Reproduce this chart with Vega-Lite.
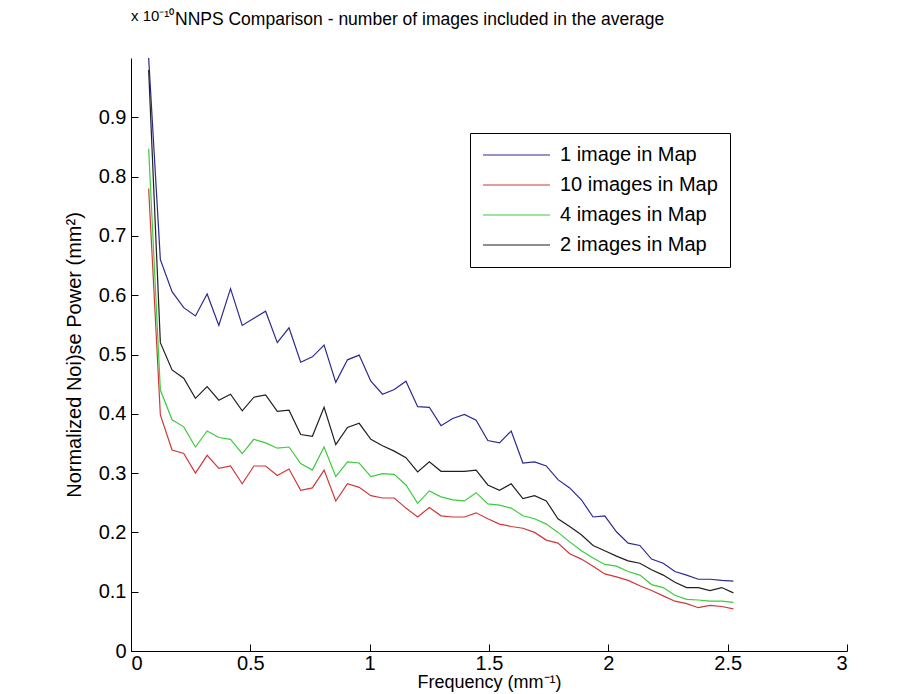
{
  "$schema": "https://vega.github.io/schema/vega-lite/v6.json",
  "width": 716,
  "height": 593,
  "autosize": "none",
  "padding": {"left": 131, "top": 58, "right": 73, "bottom": 43},
  "background": "white",
  "title": {
    "text": "NNPS Comparison - number of images included in the average",
    "anchor": "start",
    "frame": "group",
    "dx": 44,
    "dy": 45,
    "font": "Liberation Sans",
    "fontSize": 17.5,
    "fontWeight": "normal",
    "color": "black",
    "baseline": "alphabetic",
    "offset": 12
  },
  "layer": [
    {
      "data": {
        "values": [
          {"f":0.074,"n":"1 image in Map","v":1.0},{"f":0.123,"n":"1 image in Map","v":0.66},{"f":0.172,"n":"1 image in Map","v":0.606},{"f":0.221,"n":"1 image in Map","v":0.579},{"f":0.270,"n":"1 image in Map","v":0.565},{"f":0.319,"n":"1 image in Map","v":0.602},{"f":0.368,"n":"1 image in Map","v":0.549},{"f":0.417,"n":"1 image in Map","v":0.611},{"f":0.466,"n":"1 image in Map","v":0.549},{"f":0.515,"n":"1 image in Map","v":0.561},{"f":0.564,"n":"1 image in Map","v":0.573},{"f":0.613,"n":"1 image in Map","v":0.52},{"f":0.662,"n":"1 image in Map","v":0.545},{"f":0.711,"n":"1 image in Map","v":0.487},{"f":0.760,"n":"1 image in Map","v":0.496},{"f":0.809,"n":"1 image in Map","v":0.516},{"f":0.858,"n":"1 image in Map","v":0.453},{"f":0.907,"n":"1 image in Map","v":0.491},{"f":0.956,"n":"1 image in Map","v":0.499},{"f":1.005,"n":"1 image in Map","v":0.455},{"f":1.054,"n":"1 image in Map","v":0.433},{"f":1.103,"n":"1 image in Map","v":0.441},{"f":1.152,"n":"1 image in Map","v":0.455},{"f":1.201,"n":"1 image in Map","v":0.412},{"f":1.250,"n":"1 image in Map","v":0.411},{"f":1.299,"n":"1 image in Map","v":0.38},{"f":1.348,"n":"1 image in Map","v":0.392},{"f":1.397,"n":"1 image in Map","v":0.399},{"f":1.446,"n":"1 image in Map","v":0.389},{"f":1.495,"n":"1 image in Map","v":0.355},{"f":1.544,"n":"1 image in Map","v":0.351},{"f":1.593,"n":"1 image in Map","v":0.371},{"f":1.642,"n":"1 image in Map","v":0.317},{"f":1.691,"n":"1 image in Map","v":0.319},{"f":1.740,"n":"1 image in Map","v":0.312},{"f":1.789,"n":"1 image in Map","v":0.289},{"f":1.838,"n":"1 image in Map","v":0.275},{"f":1.887,"n":"1 image in Map","v":0.255},{"f":1.936,"n":"1 image in Map","v":0.226},{"f":1.985,"n":"1 image in Map","v":0.228},{"f":2.034,"n":"1 image in Map","v":0.201},{"f":2.083,"n":"1 image in Map","v":0.182},{"f":2.132,"n":"1 image in Map","v":0.178},{"f":2.181,"n":"1 image in Map","v":0.155},{"f":2.230,"n":"1 image in Map","v":0.148},{"f":2.279,"n":"1 image in Map","v":0.134},{"f":2.328,"n":"1 image in Map","v":0.128},{"f":2.377,"n":"1 image in Map","v":0.121},{"f":2.426,"n":"1 image in Map","v":0.121},{"f":2.475,"n":"1 image in Map","v":0.119},{"f":2.524,"n":"1 image in Map","v":0.118},
          {"f":0.074,"n":"10 images in Map","v":0.78},{"f":0.123,"n":"10 images in Map","v":0.398},{"f":0.172,"n":"10 images in Map","v":0.339},{"f":0.221,"n":"10 images in Map","v":0.333},{"f":0.270,"n":"10 images in Map","v":0.3},{"f":0.319,"n":"10 images in Map","v":0.33},{"f":0.368,"n":"10 images in Map","v":0.308},{"f":0.417,"n":"10 images in Map","v":0.312},{"f":0.466,"n":"10 images in Map","v":0.282},{"f":0.515,"n":"10 images in Map","v":0.312},{"f":0.564,"n":"10 images in Map","v":0.312},{"f":0.613,"n":"10 images in Map","v":0.296},{"f":0.662,"n":"10 images in Map","v":0.307},{"f":0.711,"n":"10 images in Map","v":0.271},{"f":0.760,"n":"10 images in Map","v":0.275},{"f":0.809,"n":"10 images in Map","v":0.305},{"f":0.858,"n":"10 images in Map","v":0.253},{"f":0.907,"n":"10 images in Map","v":0.282},{"f":0.956,"n":"10 images in Map","v":0.276},{"f":1.005,"n":"10 images in Map","v":0.262},{"f":1.054,"n":"10 images in Map","v":0.258},{"f":1.103,"n":"10 images in Map","v":0.258},{"f":1.152,"n":"10 images in Map","v":0.241},{"f":1.201,"n":"10 images in Map","v":0.226},{"f":1.250,"n":"10 images in Map","v":0.242},{"f":1.299,"n":"10 images in Map","v":0.228},{"f":1.348,"n":"10 images in Map","v":0.226},{"f":1.397,"n":"10 images in Map","v":0.226},{"f":1.446,"n":"10 images in Map","v":0.233},{"f":1.495,"n":"10 images in Map","v":0.223},{"f":1.544,"n":"10 images in Map","v":0.214},{"f":1.593,"n":"10 images in Map","v":0.21},{"f":1.642,"n":"10 images in Map","v":0.207},{"f":1.691,"n":"10 images in Map","v":0.2},{"f":1.740,"n":"10 images in Map","v":0.187},{"f":1.789,"n":"10 images in Map","v":0.182},{"f":1.838,"n":"10 images in Map","v":0.164},{"f":1.887,"n":"10 images in Map","v":0.155},{"f":1.936,"n":"10 images in Map","v":0.143},{"f":1.985,"n":"10 images in Map","v":0.13},{"f":2.034,"n":"10 images in Map","v":0.125},{"f":2.083,"n":"10 images in Map","v":0.119},{"f":2.132,"n":"10 images in Map","v":0.11},{"f":2.181,"n":"10 images in Map","v":0.102},{"f":2.230,"n":"10 images in Map","v":0.093},{"f":2.279,"n":"10 images in Map","v":0.084},{"f":2.328,"n":"10 images in Map","v":0.08},{"f":2.377,"n":"10 images in Map","v":0.073},{"f":2.426,"n":"10 images in Map","v":0.077},{"f":2.475,"n":"10 images in Map","v":0.075},{"f":2.524,"n":"10 images in Map","v":0.071},
          {"f":0.074,"n":"4 images in Map","v":0.847},{"f":0.123,"n":"4 images in Map","v":0.44},{"f":0.172,"n":"4 images in Map","v":0.39},{"f":0.221,"n":"4 images in Map","v":0.378},{"f":0.270,"n":"4 images in Map","v":0.344},{"f":0.319,"n":"4 images in Map","v":0.371},{"f":0.368,"n":"4 images in Map","v":0.36},{"f":0.417,"n":"4 images in Map","v":0.357},{"f":0.466,"n":"4 images in Map","v":0.333},{"f":0.515,"n":"4 images in Map","v":0.357},{"f":0.564,"n":"4 images in Map","v":0.351},{"f":0.613,"n":"4 images in Map","v":0.342},{"f":0.662,"n":"4 images in Map","v":0.344},{"f":0.711,"n":"4 images in Map","v":0.316},{"f":0.760,"n":"4 images in Map","v":0.305},{"f":0.809,"n":"4 images in Map","v":0.344},{"f":0.858,"n":"4 images in Map","v":0.294},{"f":0.907,"n":"4 images in Map","v":0.319},{"f":0.956,"n":"4 images in Map","v":0.317},{"f":1.005,"n":"4 images in Map","v":0.294},{"f":1.054,"n":"4 images in Map","v":0.299},{"f":1.103,"n":"4 images in Map","v":0.298},{"f":1.152,"n":"4 images in Map","v":0.28},{"f":1.201,"n":"4 images in Map","v":0.249},{"f":1.250,"n":"4 images in Map","v":0.27},{"f":1.299,"n":"4 images in Map","v":0.26},{"f":1.348,"n":"4 images in Map","v":0.255},{"f":1.397,"n":"4 images in Map","v":0.253},{"f":1.446,"n":"4 images in Map","v":0.267},{"f":1.495,"n":"4 images in Map","v":0.248},{"f":1.544,"n":"4 images in Map","v":0.246},{"f":1.593,"n":"4 images in Map","v":0.241},{"f":1.642,"n":"4 images in Map","v":0.228},{"f":1.691,"n":"4 images in Map","v":0.223},{"f":1.740,"n":"4 images in Map","v":0.214},{"f":1.789,"n":"4 images in Map","v":0.2},{"f":1.838,"n":"4 images in Map","v":0.184},{"f":1.887,"n":"4 images in Map","v":0.169},{"f":1.936,"n":"4 images in Map","v":0.157},{"f":1.985,"n":"4 images in Map","v":0.146},{"f":2.034,"n":"4 images in Map","v":0.143},{"f":2.083,"n":"4 images in Map","v":0.134},{"f":2.132,"n":"4 images in Map","v":0.128},{"f":2.181,"n":"4 images in Map","v":0.112},{"f":2.230,"n":"4 images in Map","v":0.107},{"f":2.279,"n":"4 images in Map","v":0.094},{"f":2.328,"n":"4 images in Map","v":0.087},{"f":2.377,"n":"4 images in Map","v":0.086},{"f":2.426,"n":"4 images in Map","v":0.084},{"f":2.475,"n":"4 images in Map","v":0.084},{"f":2.524,"n":"4 images in Map","v":0.082},
          {"f":0.074,"n":"2 images in Map","v":0.98},{"f":0.123,"n":"2 images in Map","v":0.52},{"f":0.172,"n":"2 images in Map","v":0.474},{"f":0.221,"n":"2 images in Map","v":0.46},{"f":0.270,"n":"2 images in Map","v":0.426},{"f":0.319,"n":"2 images in Map","v":0.446},{"f":0.368,"n":"2 images in Map","v":0.423},{"f":0.417,"n":"2 images in Map","v":0.433},{"f":0.466,"n":"2 images in Map","v":0.405},{"f":0.515,"n":"2 images in Map","v":0.428},{"f":0.564,"n":"2 images in Map","v":0.432},{"f":0.613,"n":"2 images in Map","v":0.404},{"f":0.662,"n":"2 images in Map","v":0.406},{"f":0.711,"n":"2 images in Map","v":0.365},{"f":0.760,"n":"2 images in Map","v":0.362},{"f":0.809,"n":"2 images in Map","v":0.411},{"f":0.858,"n":"2 images in Map","v":0.348},{"f":0.907,"n":"2 images in Map","v":0.377},{"f":0.956,"n":"2 images in Map","v":0.384},{"f":1.005,"n":"2 images in Map","v":0.357},{"f":1.054,"n":"2 images in Map","v":0.346},{"f":1.103,"n":"2 images in Map","v":0.337},{"f":1.152,"n":"2 images in Map","v":0.326},{"f":1.201,"n":"2 images in Map","v":0.302},{"f":1.250,"n":"2 images in Map","v":0.319},{"f":1.299,"n":"2 images in Map","v":0.303},{"f":1.348,"n":"2 images in Map","v":0.303},{"f":1.397,"n":"2 images in Map","v":0.303},{"f":1.446,"n":"2 images in Map","v":0.305},{"f":1.495,"n":"2 images in Map","v":0.28},{"f":1.544,"n":"2 images in Map","v":0.271},{"f":1.593,"n":"2 images in Map","v":0.282},{"f":1.642,"n":"2 images in Map","v":0.257},{"f":1.691,"n":"2 images in Map","v":0.262},{"f":1.740,"n":"2 images in Map","v":0.253},{"f":1.789,"n":"2 images in Map","v":0.223},{"f":1.838,"n":"2 images in Map","v":0.21},{"f":1.887,"n":"2 images in Map","v":0.196},{"f":1.936,"n":"2 images in Map","v":0.178},{"f":1.985,"n":"2 images in Map","v":0.169},{"f":2.034,"n":"2 images in Map","v":0.16},{"f":2.083,"n":"2 images in Map","v":0.152},{"f":2.132,"n":"2 images in Map","v":0.148},{"f":2.181,"n":"2 images in Map","v":0.137},{"f":2.230,"n":"2 images in Map","v":0.128},{"f":2.279,"n":"2 images in Map","v":0.116},{"f":2.328,"n":"2 images in Map","v":0.107},{"f":2.377,"n":"2 images in Map","v":0.107},{"f":2.426,"n":"2 images in Map","v":0.102},{"f":2.475,"n":"2 images in Map","v":0.107},{"f":2.524,"n":"2 images in Map","v":0.098}
        ]
      },
      "mark": {"type": "line", "strokeWidth": 1.2, "clip": true},
      "encoding": {
        "x": {
          "field": "f",
          "type": "quantitative",
          "scale": {"domain": [0, 3], "nice": false, "zero": false},
          "axis": {
            "values": [0, 0.5, 1, 1.5, 2, 2.5, 3],
            "format": "~g",
            "title": "Frequency (mm⁻¹)",
            "titleFontSize": 18,
            "labelPadding": 9,
            "titlePadding": 0
          }
        },
        "y": {
          "field": "v",
          "type": "quantitative",
          "scale": {"domain": [0, 1], "nice": false},
          "axis": {
            "values": [0, 0.1, 0.2, 0.3, 0.4, 0.5, 0.6, 0.7, 0.8, 0.9],
            "format": "~g",
            "title": "Normalized Noi)se Power (mm²)",
            "labelPadding": 12,
            "titlePadding": 14
          }
        },
        "color": {
          "field": "n",
          "type": "nominal",
          "scale": {
            "domain": ["1 image in Map", "10 images in Map", "4 images in Map", "2 images in Map"],
            "range": ["#2a2a90", "#d03838", "#3ccc3c", "#202020"]
          },
          "legend": {
            "orient": "none",
            "legendX": 339,
            "legendY": 75,
            "title": null,
            "strokeColor": "black",
            "fillColor": "white",
            "padding": 12,
            "symbolType": "stroke",
            "symbolSize": 4489,
            "symbolStrokeWidth": 1.2,
            "labelOffset": 9,
            "clipHeight": 20,
            "rowPadding": 10,
            "labelFont": "Liberation Sans",
            "labelFontSize": 20,
            "labelColor": "black",
            "labelLimit": 0
          }
        }
      }
    },
    {
      "data": {"values": [{"label": "x 10⁻¹⁰", "fx": 0, "fy": 1}]},
      "mark": {
        "type": "text",
        "align": "left",
        "baseline": "alphabetic",
        "dy": -37,
        "font": "Liberation Sans",
        "fontSize": 15,
        "color": "black"
      },
      "encoding": {
        "x": {"field": "fx", "type": "quantitative"},
        "y": {"field": "fy", "type": "quantitative"},
        "text": {"field": "label"}
      }
    }
  ],
  "config": {
    "view": {"stroke": null},
    "axis": {
      "grid": false,
      "domainColor": "black",
      "domainWidth": 1,
      "tickColor": "black",
      "tickSize": -7,
      "labelColor": "black",
      "labelFont": "Liberation Sans",
      "labelFontSize": 20,
      "titleFont": "Liberation Sans",
      "titleFontSize": 20,
      "titleFontWeight": "normal",
      "titleColor": "black"
    }
  }
}
